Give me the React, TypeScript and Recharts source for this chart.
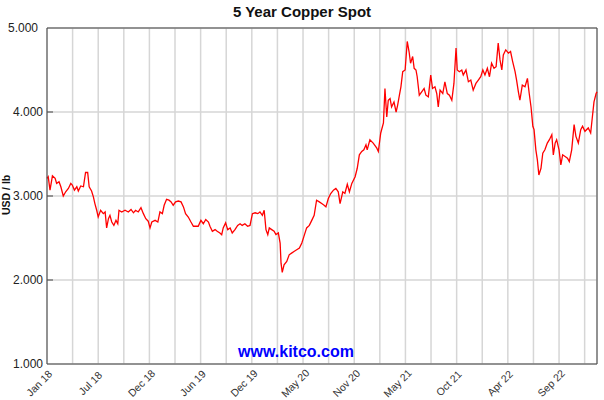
import React from 'react';
import { LineChart, Line, XAxis, YAxis, CartesianGrid, ReferenceLine } from 'recharts';

// days since 2 Jan 2018
const days = [
  0, 4, 10, 18, 27, 32, 40, 46, 54, 62, 71, 79, 84, 91, 99, 104, 112, 121, 128, 135,
  140, 148, 154, 159, 165, 170, 178, 187, 193, 198, 204, 209, 215, 222, 229, 235, 239, 248, 259, 270,
  279, 287, 294, 303, 312, 320, 328, 336, 342, 348, 359, 368, 375, 383, 389, 397, 405, 412, 419, 427,
  436, 445, 453, 460, 469, 478, 486, 494, 502, 511, 519, 527, 536, 541, 549, 558, 565, 574, 580, 585,
  593, 600, 608, 615, 624, 633, 641, 648, 657, 666, 674, 682, 691, 700, 707, 715, 721, 727, 733, 738,
  746, 754, 760, 768, 774, 777, 781, 787, 796, 804, 812, 820, 829, 838, 846, 853, 862, 871, 879, 887,
  895, 904, 912, 920, 926, 934, 942, 951, 959, 967, 973, 982, 989, 997, 1004, 1012, 1023, 1030, 1037, 1045,
  1052, 1059, 1063, 1072, 1083, 1095, 1100, 1108, 1117, 1122, 1128, 1133, 1139, 1144, 1152, 1159, 1164, 1170, 1175, 1181,
  1189, 1196, 1202, 1207, 1214, 1219, 1225, 1229, 1236, 1244, 1252, 1258, 1266, 1274, 1280, 1288, 1294, 1299, 1305, 1314,
  1321, 1329, 1336, 1344, 1351, 1358, 1362, 1369, 1377, 1382, 1391, 1399, 1407, 1415, 1424, 1432, 1440, 1447, 1454, 1462,
  1469, 1476, 1484, 1491, 1498, 1504, 1510, 1515, 1523, 1532, 1539, 1546, 1554, 1559, 1565, 1570, 1578, 1587, 1595, 1601,
  1607, 1613, 1617, 1623, 1628, 1633, 1640, 1646, 1653, 1661, 1668, 1676, 1681, 1687, 1692, 1700, 1706, 1712, 1720, 1728,
  1734, 1742, 1750, 1756, 1764, 1772, 1778, 1786, 1797, 1805, 1810, 1816, 1823, 1826,
];

// USD / lb
const prices = [
  3.21, 3.23, 3.07, 3.24, 3.21, 3.15, 3.17, 3.11, 3.0, 3.05, 3.09, 3.15, 3.13, 3.07, 3.11, 3.06, 3.12, 3.11, 3.28, 3.28,
  3.11, 3.06, 2.99, 2.91, 2.83, 2.75, 2.83, 2.79, 2.81, 2.62, 2.73, 2.77, 2.69, 2.65, 2.71, 2.67, 2.83, 2.81, 2.83, 2.81,
  2.84, 2.8, 2.83, 2.81, 2.86, 2.79, 2.73, 2.7, 2.62, 2.69, 2.71, 2.69, 2.81, 2.79, 2.89, 2.96, 2.95, 2.93, 2.89, 2.93,
  2.94, 2.93, 2.87, 2.79, 2.75, 2.69, 2.64, 2.64, 2.64, 2.71, 2.67, 2.72, 2.69, 2.64, 2.58, 2.6, 2.58, 2.56, 2.54, 2.62,
  2.68, 2.6, 2.62, 2.56, 2.6, 2.65, 2.67, 2.65, 2.67, 2.64, 2.65, 2.79, 2.8, 2.79, 2.81, 2.77, 2.83, 2.6, 2.54, 2.62,
  2.6, 2.58, 2.54, 2.56, 2.44, 2.2, 2.09, 2.18, 2.22, 2.3, 2.32, 2.34, 2.36, 2.38, 2.44, 2.52, 2.62, 2.65, 2.71, 2.77,
  2.95, 2.93, 2.91, 2.89, 2.87, 2.97, 3.03, 3.07, 3.09, 3.05, 2.91, 3.05, 3.03, 3.14, 3.05, 3.15, 3.23, 3.33, 3.49, 3.53,
  3.55, 3.61, 3.55, 3.67, 3.63, 3.57, 3.53, 3.75, 3.87, 4.28, 3.94, 4.14, 4.16, 4.06, 4.12, 4.0, 4.08, 4.2, 4.3, 4.48,
  4.5, 4.84, 4.72, 4.58, 4.66, 4.52, 4.5, 4.42, 4.2, 4.24, 4.28, 4.2, 4.18, 4.44, 4.28, 4.3, 4.22, 4.06, 4.26, 4.22,
  4.36, 4.22, 4.2, 4.14, 4.34, 4.76, 4.5, 4.48, 4.5, 4.44, 4.5, 4.36, 4.38, 4.26, 4.34, 4.38, 4.42, 4.5, 4.44, 4.52,
  4.42, 4.58, 4.52, 4.54, 4.82, 4.62, 4.5, 4.68, 4.74, 4.7, 4.72, 4.6, 4.48, 4.38, 4.24, 4.14, 4.32, 4.3, 4.4, 4.22,
  4.06, 3.83, 3.79, 3.55, 3.43, 3.25, 3.33, 3.51, 3.55, 3.63, 3.67, 3.73, 3.49, 3.63, 3.67, 3.55, 3.37, 3.49, 3.47, 3.45,
  3.41, 3.55, 3.85, 3.71, 3.63, 3.79, 3.83, 3.77, 3.81, 3.75, 3.92, 4.12, 4.22, 4.24,
];

const xTicks = [0, 85, 170, 255, 340, 425, 510, 595, 680, 765, 850, 935, 1020, 1105, 1190, 1275, 1360, 1445, 1530, 1615, 1700, 1785];
const xLabels = ['Jan 18', '', 'Jul 18', '', 'Dec 18', '', 'Jun 19', '', 'Dec 19', '', 'May 20', '', 'Nov 20', '', 'May 21', '', 'Oct 21', '', 'Apr 22', '', 'Sep 22', ''];
const yTicks = [1, 2, 3, 4, 5];

const data = days.map((d, i) => ({ day: d, price: prices[i] }));

const FONT = '"Liberation Sans", Arial, sans-serif';

// labels are rotated about their centre, which sits below-left of the tick
const XTick = (props: any) => {
  const { x, y, payload } = props;
  const label = xLabels[xTicks.indexOf(payload.value)] || '';
  if (!label) return null;
  const cx = Number(x) - 8;
  const cy = Number(y) + 19;
  return (
    <text
      x={cx}
      y={cy}
      transform={`rotate(-45 ${cx} ${cy})`}
      textAnchor="middle"
      dominantBaseline="central"
      fontSize={10.5}
      fill="#333"
      fontFamily={FONT}
    >
      {label}
    </text>
  );
};

const YTick = (props: any) => {
  const { x, y, payload } = props;
  const axisX = x + 4;
  const shift = payload.value === 5 ? -5 : 0;
  return (
    <g>
      {payload.value !== 1 && payload.value !== 5 && (
        <line x1={axisX} x2={axisX + 6} y1={y} y2={y} stroke="#444" />
      )}
      <text x={x + shift} y={y} dy={4} textAnchor="end" fontSize={12} fill="#222" fontFamily={FONT}>
        {payload.value.toFixed(3)}
      </text>
    </g>
  );
};

export default function App() {
  return (
    <div style={{ position: 'absolute', left: 0, top: 0, width: 604, height: 400, background: '#fff', fontFamily: FONT }}>
      <div style={{ position: 'absolute', left: 0, top: 3, width: 604, textAlign: 'center', fontWeight: 'bold', fontSize: 15, color: '#111' }}>
        5 Year Copper Spot
      </div>
      <div
        style={{
          position: 'absolute', left: -14, top: 189, width: 40, height: 12, textAlign: 'center', lineHeight: '12px',
          whiteSpace: 'nowrap', transform: 'rotate(-90deg)', fontWeight: 'bold', fontSize: 10.5, color: '#111',
        }}
      >
        USD / lb
      </div>
      <LineChart width={604} height={400} data={data} margin={{ top: 28, right: 7, left: 0, bottom: 0 }}>
        <CartesianGrid stroke="#d6d6d6" strokeWidth={1.5} />
        <XAxis
          dataKey="day"
          type="number"
          domain={[0, 1826]}
          ticks={xTicks}
          tick={<XTick />}
          height={36}
          axisLine={{ stroke: '#444' }}
          tickLine={false}
          tickSize={0}
          tickMargin={0}
          interval={0}
        />
        <YAxis
          domain={[1, 5]}
          ticks={yTicks}
          width={47}
          tick={<YTick />}
          axisLine={{ stroke: '#444' }}
          tickLine={false}
          tickSize={0}
          tickMargin={4}
        />
        <ReferenceLine y={5} stroke="#444" />
        <ReferenceLine x={1826} stroke="#444" />
        <Line type="linear" dataKey="price" stroke="#ff0000" strokeWidth={1.3} dot={false} isAnimationActive={false} />
      </LineChart>
      <div style={{ position: 'absolute', left: 0, top: 343, width: 592, textAlign: 'center', fontWeight: 'bold', fontSize: 16, color: '#0000ff' }}>
        www.kitco.com
      </div>
    </div>
  );
}
